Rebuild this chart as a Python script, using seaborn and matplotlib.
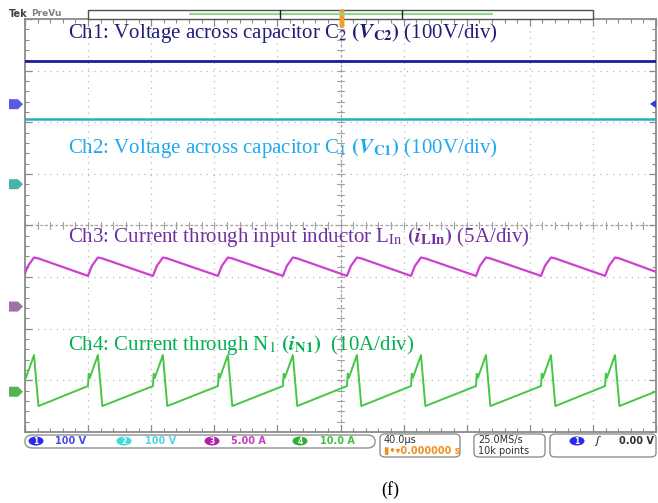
import matplotlib
matplotlib.use("Agg")
import matplotlib.pyplot as plt
import seaborn as sns
import pandas as pd
from matplotlib.patches import FancyBboxPatch, Rectangle, Polygon, Ellipse
from matplotlib.ticker import MultipleLocator

time_range_us = [0, 400]          # 10 div x 40 us/div
volts_per_div = [100, 100, 5, 10]  # Ch1, Ch2, Ch3, Ch4 scale
ground_offset_div = [2.35, 0.80, -1.57, -3.22]

ch1_t = [0.0, 400.0]
ch1_v = [84.0, 84.0]               # V_C2 (V)
ch2_t = [0.0, 400.0]
ch2_v = [126.0, 126.0]             # V_C1 (V)

ch3_t = [-0.6, 1.9, 5.7, 8.3,
         39.9, 42.4, 46.2, 48.8,
         81.1, 83.6, 87.4, 90.0,
         122.3, 124.8, 128.6, 131.2,
         163.5, 166.0, 169.8, 172.4,
         204.1, 206.6, 210.4, 213.0,
         244.7, 247.2, 251.0, 253.6,
         285.9, 288.4, 292.2, 294.8,
         327.1, 329.6, 333.4, 336.0,
         367.7, 370.2, 374.0, 376.6,
         400.0]
ch3_i = [2.97, 3.94, 4.75, 4.67] * 10 + [3.36]   # i_LIn (A)

ch4_t = [-0.6, -0.1, 0.6, 5.7, 8.5,
         39.9, 40.4, 41.1, 46.2, 49.0,
         81.1, 81.6, 82.3, 87.4, 90.2,
         122.3, 122.8, 123.5, 128.6, 131.4,
         163.5, 164.0, 164.7, 169.8, 172.6,
         204.1, 204.6, 205.3, 210.4, 213.2,
         244.7, 245.2, 245.9, 251.0, 253.8,
         285.9, 286.4, 287.1, 292.2, 295.0,
         327.1, 327.6, 328.3, 333.4, 336.2,
         367.7, 368.2, 368.9, 374.0, 376.8,
         400.0]
ch4_i = [1.10, 3.5, 2.7, 7.1, -2.77] * 10 + [0.06]   # i_N1 (A)

channel_colors = ["#1c1ca0", "#22b4b0", "#d040d0", "#44c844"]
marker_colors = ["#5a5ae0", "#48b4a8", "#a070a8", "#52b452"]
label_colors = ["#1f1f78", "#1eaaee", "#7030a0", "#00b050"]
labels = [
    r"Ch1: Voltage across capacitor C$_2$ $\mathbf{(}\mathbfit{V}_{\mathbf{C2}}\mathbf{)}$ (100V/div)",
    r"Ch2: Voltage across capacitor C$_1$ $\mathbf{(}\mathbfit{V}_{\mathbf{C1}}\mathbf{)}$ (100V/div)",
    r"Ch3: Current through input inductor L$_{\mathrm{In}}$ $\mathbf{(}\mathbfit{i}_{\mathbf{LIn}}\mathbf{)}$ (5A/div)",
    r"Ch4: Current through N$_1$ $\mathbf{(}\mathbfit{i}_{\mathbf{N1}}\mathbf{)}$  (10A/div)",
]
bottom_scales = ["100 V", "100 V", "5.00 A", "10.0 A"]

# ---------------- figure ----------------
sns.set_theme(style="white")
plt.rcParams["mathtext.fontset"] = "stix"
W, H = 658, 503
fig = plt.figure(figsize=(W / 100, H / 100), dpi=100)
fig.patch.set_facecolor("white")


def fx(x):
    return x / W


def fy(y):
    return 1 - y / H


L, R, T, B = 25, 656, 19, 432
ax = fig.add_axes([fx(L), fy(B), (R - L) / W, (B - T) / H])
ax.set_xlim(*time_range_us)
ax.set_ylim(-4, 4)
ax.set_facecolor("white")

# grid
for k in range(1, 10):
    ax.axvline(k * 40, color="#b8b8b8", lw=0.9, ls=(0, (1, 4)), zorder=0)
for k in range(-3, 4):
    ax.axhline(k, color="#b8b8b8", lw=0.9, ls=(0, (1, 4)), zorder=0)
ax.axvline(200, color="#a0a0a0", lw=0.9, ls=(0, (2, 2)), zorder=0)
ax.axhline(0, color="#a0a0a0", lw=0.9, ls=(0, (2, 2)), zorder=0)
for k in range(-20, 21):
    ax.plot([200 - 2.0, 200 + 2.0], [k * 0.2, k * 0.2], color="#a0a0a0", lw=0.8, zorder=0)
for k in range(0, 51):
    ax.plot([k * 8, k * 8], [-0.06, 0.06], color="#a0a0a0", lw=0.8, zorder=0)

for s in ax.spines.values():
    s.set_color("#8a8a8a")
    s.set_linewidth(1.3)
ax.xaxis.set_major_locator(MultipleLocator(40))
ax.xaxis.set_minor_locator(MultipleLocator(8))
ax.yaxis.set_major_locator(MultipleLocator(1))
ax.yaxis.set_minor_locator(MultipleLocator(0.2))
ax.tick_params(which="both", direction="in", top=True, right=True, bottom=True, left=True,
               labelbottom=False, labelleft=False, color="#8a8a8a")
ax.tick_params(which="major", length=5, width=0.9)
ax.tick_params(which="minor", length=3, width=0.8)

# traces
series = [(ch1_t, ch1_v), (ch2_t, ch2_v), (ch3_t, ch3_i), (ch4_t, ch4_i)]
widths = [2.0, 1.8, 1.6, 1.4]
for n, (t, v) in enumerate(series):
    df = pd.DataFrame({"t": t, "y": [val / volts_per_div[n] + ground_offset_div[n] for val in v]})
    sns.lineplot(data=df, x="t", y="y", ax=ax, color=channel_colors[n], lw=widths[n],
                 sort=False, estimator=None, zorder=3)
ax.set_xlabel("")
ax.set_ylabel("")

# ground markers on left
for n in range(4):
    yc = ax.transData.transform((0, ground_offset_div[n]))[1]
    ypx = H - yc
    poly = Polygon([(fx(9), fy(ypx - 5)), (fx(18), fy(ypx - 5)), (fx(23), fy(ypx)),
                    (fx(18), fy(ypx + 5)), (fx(9), fy(ypx + 5))],
                   closed=True, transform=fig.transFigure, facecolor=marker_colors[n],
                   edgecolor="none", zorder=5)
    fig.add_artist(poly)
    fig.text(fx(15), fy(ypx), str(n + 1), color="white", fontsize=6, fontweight="bold",
             ha="center", va="center")

# trigger level marker on right
fig.add_artist(Polygon([(fx(650), fy(104)), (fx(656), fy(100)), (fx(656), fy(108))],
                       closed=True, transform=fig.transFigure, facecolor="#3535e0",
                       edgecolor="none"))

# captions
ybase = [38, 153, 242, 350]
for n in range(4):
    fig.text(fx(68), fy(ybase[n]), labels[n], color=label_colors[n], fontsize=15,
             family="Liberation Serif", va="baseline", ha="left", zorder=6)

# ---------------- top bar ----------------
fig.text(fx(9), fy(14), "Tek", fontsize=7, fontweight="bold", color="#404040",
         family="DejaVu Sans", va="center")
fig.text(fx(31), fy(14), "PreVu", fontsize=6.5, fontweight="bold", color="#808080",
         family="DejaVu Sans", va="center")
fig.add_artist(Rectangle((fx(88), fy(19)), (593 - 88) / W, 9 / H, transform=fig.transFigure,
                         facecolor="white", edgecolor="#505050", lw=1.0))
fig.add_artist(plt.Line2D([fx(190), fx(492)], [fy(13.5), fy(13.5)], transform=fig.transFigure,
                          color="#90d890", lw=1.6))
for xx in (280, 402):
    fig.add_artist(plt.Line2D([fx(xx), fx(xx)], [fy(10), fy(18)], transform=fig.transFigure,
                              color="#202020", lw=1.0))
fig.add_artist(FancyBboxPatch((fx(339.5), fy(28)), 5 / W, 19 / H,
                              boxstyle="round,pad=0,rounding_size=0.004",
                              transform=fig.transFigure, facecolor="#f0a030", edgecolor="none"))

# ---------------- bottom bar ----------------
fig.add_artist(FancyBboxPatch((fx(25), fy(448)), (375 - 25) / W, 13 / H,
                              boxstyle="round,pad=0,rounding_size=0.012",
                              transform=fig.transFigure, facecolor="white",
                              edgecolor="#909090", lw=1.0))
badge_x = [36, 124, 212, 300]
text_x = [55, 145, 231, 320]
for n in range(4):
    fig.add_artist(Ellipse((fx(badge_x[n]), fy(441)), 15 / W, 9 / H, transform=fig.transFigure,
                           facecolor=["#2a2ae8", "#40d8d8", "#b020b0", "#30b030"][n],
                           edgecolor="none"))
    fig.text(fx(badge_x[n]), fy(441), str(n + 1), color="white", fontsize=5.5,
             fontweight="bold", ha="center", va="center")
    fig.text(fx(text_x[n]), fy(441), bottom_scales[n],
             color=["#4a4ae8", "#50d8e0", "#c040c0", "#40c040"][n], fontsize=7,
             fontweight="bold", ha="left", va="center", family="DejaVu Sans")

for (x0, x1) in [(380, 460), (474, 545), (550, 656)]:
    fig.add_artist(FancyBboxPatch((fx(x0), fy(457)), (x1 - x0) / W, 23 / H,
                                  boxstyle="round,pad=0,rounding_size=0.008",
                                  transform=fig.transFigure, facecolor="white",
                                  edgecolor="#909090", lw=1.0))
fig.text(fx(384), fy(440), "40.0µs", fontsize=7, color="#303030", va="center",
         family="DejaVu Sans")
fig.text(fx(384), fy(451), "\u25AE\u2022\u25BE0.000000 s", fontsize=7, color="#f09020",
         va="center", family="DejaVu Sans", fontweight="bold")
fig.text(fx(478), fy(440), "25.0MS/s", fontsize=7, color="#303030", va="center",
         family="DejaVu Sans")
fig.text(fx(478), fy(451), "10k points", fontsize=7, color="#303030", va="center",
         family="DejaVu Sans")
fig.add_artist(Ellipse((fx(577), fy(441)), 15 / W, 9 / H, transform=fig.transFigure,
                       facecolor="#2a2ae8", edgecolor="none"))
fig.text(fx(577), fy(441), "1", color="white", fontsize=5.5, fontweight="bold",
         ha="center", va="center")
fig.text(fx(597), fy(441), "\u0283", fontsize=8, color="#202020", ha="center", va="center",
         family="DejaVu Sans", fontstyle="italic")
fig.text(fx(654), fy(441), "0.00 V", fontsize=7, color="#303030", ha="right", va="center",
         family="DejaVu Sans", fontweight="bold")

fig.text(fx(390), fy(490), "(f)", fontsize=13, family="Liberation Serif", color="black",
         ha="center", va="center")

fig.savefig("out.png", dpi=100)
